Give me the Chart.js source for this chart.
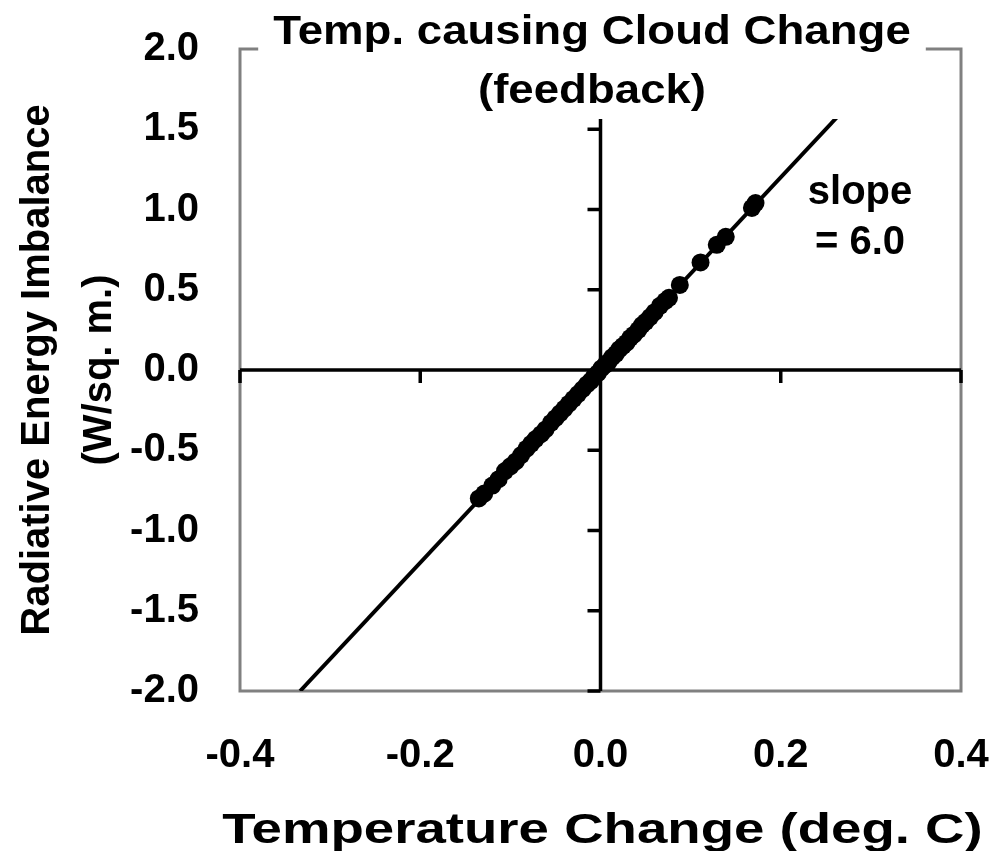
<!DOCTYPE html>
<html>
<head>
<meta charset="utf-8">
<script src="https://cdn.jsdelivr.net/npm/chart.js@4"></script>
<style>
  body { margin: 0; background: #fff; }
  #wrap { width: 1005px; height: 851px; }
</style>
</head>
<body>
<div id="wrap"><canvas id="chart"></canvas></div>
<script>
// temperature change (deg C) vs. radiative imbalance (W/sq. m.)
const tempChange = [-0.135, -0.129, -0.120, -0.113, -0.106, -0.100, -0.094, -0.088, -0.082, -0.077,
  -0.072, -0.066, -0.061, -0.055, -0.050, -0.045, -0.040, -0.035, -0.030, -0.025,
  -0.020, -0.015, -0.011, -0.007, -0.003, 0.001, 0.005, 0.009, 0.013, 0.017,
  0.021, 0.025, 0.029, 0.033, 0.037, 0.042, 0.046, 0.050, 0.055, 0.060,
  0.066, 0.072, 0.076, 0.088, 0.111, 0.129, 0.139, 0.168, 0.172];
const imbalance = [-0.80, -0.77, -0.72, -0.68, -0.63, -0.60, -0.57, -0.53, -0.49, -0.46,
  -0.43, -0.40, -0.37, -0.33, -0.30, -0.27, -0.24, -0.21, -0.18, -0.15,
  -0.12, -0.09, -0.07, -0.04, -0.02, 0.01, 0.03, 0.05, 0.08, 0.10,
  0.13, 0.15, 0.17, 0.20, 0.22, 0.25, 0.28, 0.30, 0.33, 0.36,
  0.40, 0.43, 0.45, 0.53, 0.67, 0.78, 0.83, 1.01, 1.04];

// fitted line, slope 6.0
const slopeValue = 6.0;
const fitTemp = [-0.3333, 0.3333];
const fitImbalance = [-2.0, 2.0];

const xTicks = [-0.4, -0.2, 0.0, 0.2, 0.4];
const yTicks = [-2.0, -1.5, -1.0, -0.5, 0.0, 0.5, 1.0, 1.5, 2.0];

const chartTitle = ['Temp. causing Cloud Change', '(feedback)'];
const xTitle = 'Temperature Change (deg. C)';
const yTitle = ['Radiative Energy Imbalance', '(W/sq. m.)'];

const FONT = '"Liberation Sans", Arial, sans-serif';

// gray plot frame plus the black zero axes with their tick marks
const zeroAxes = {
  id: 'zeroAxes',
  beforeDatasetsDraw(chart) {
    const { ctx, chartArea: a, scales: { x, y } } = chart;
    ctx.save();
    ctx.strokeStyle = '#808080';
    ctx.lineWidth = 3;
    ctx.strokeRect(a.left, a.top, a.right - a.left, a.bottom - a.top);

    const x0 = x.getPixelForValue(0);
    const y0 = y.getPixelForValue(0);
    ctx.strokeStyle = '#000';
    ctx.lineWidth = 3.5;
    ctx.beginPath();
    ctx.moveTo(a.left, y0);
    ctx.lineTo(a.right, y0);
    ctx.moveTo(x0, a.top);
    ctx.lineTo(x0, a.bottom);
    xTicks.forEach(v => {
      const px = x.getPixelForValue(v);
      ctx.moveTo(px, y0);
      ctx.lineTo(px, y0 + 13);
    });
    yTicks.forEach(v => {
      const py = y.getPixelForValue(v);
      ctx.moveTo(x0, py);
      ctx.lineTo(x0 - 13, py);
    });
    ctx.stroke();
    ctx.restore();
  }
};

// text drawn a little wide, like the old spreadsheet export
function wideText(ctx, text, cx, cy, stretch) {
  ctx.save();
  ctx.translate(cx, cy);
  ctx.scale(stretch, 1);
  ctx.fillText(text, 0, 0);
  ctx.restore();
}

// title on a white box over the top of the plot, the slope note and the x title
const titleBox = {
  id: 'titleBox',
  afterDraw(chart) {
    const { ctx, chartArea: a, scales: { x, y } } = chart;
    ctx.save();
    ctx.textAlign = 'center';
    ctx.textBaseline = 'middle';

    const stretch = 1.14;
    ctx.font = 'bold 40px ' + FONT;
    const w = Math.max(...chartTitle.map(t => ctx.measureText(t).width)) * stretch;
    const cx = 592, top = 33, lh = 59;
    ctx.fillStyle = '#fff';
    ctx.fillRect(cx - w / 2 - 15, 0, w + 30, top + lh + 27);
    ctx.fillStyle = '#000';
    chartTitle.forEach((t, i) => wideText(ctx, t, cx, top + i * lh, stretch));

    ctx.font = 'bold 40px ' + FONT;
    const sx = x.getPixelForValue(0.288);
    const sy = y.getPixelForValue(1.1);
    ctx.fillText('slope', sx, sy);
    ctx.fillText('= ' + slopeValue.toFixed(1), sx, sy + 50);

    ctx.font = 'bold 42px ' + FONT;
    wideText(ctx, xTitle, (a.left + a.right) / 2 + 2, 831, 1.3);
    ctx.restore();
  }
};

new Chart(document.getElementById('chart'), {
  type: 'scatter',
  data: {
    datasets: [
      {
        label: 'fit',
        data: fitTemp.map((t, i) => ({ x: t, y: fitImbalance[i] })),
        showLine: true,
        borderColor: '#000',
        borderWidth: 4,
        pointRadius: 0
      },
      {
        label: 'data',
        data: tempChange.map((t, i) => ({ x: t, y: imbalance[i] })),
        pointRadius: 9,
        pointBackgroundColor: '#000',
        pointBorderWidth: 0
      }
    ]
  },
  options: {
    responsive: true,
    maintainAspectRatio: false,
    animation: false,
    layout: { padding: { top: 49, right: 44, left: 0, bottom: 0 } },
    plugins: {
      legend: { display: false },
      tooltip: { enabled: false }
    },
    scales: {
      x: {
        type: 'linear',
        min: -0.4,
        max: 0.4,
        afterBuildTicks: s => { s.ticks = xTicks.map(v => ({ value: v })); },
        afterFit: s => { s.height = 160; s.paddingLeft = 0; s.paddingRight = 0; },
        grid: { display: false },
        border: { display: false },
        ticks: {
          padding: 33,
          color: '#000',
          font: { family: FONT, size: 40, weight: 'bold', lineHeight: 1.2 },
          callback: v => v.toFixed(1)
        },
        title: { display: false }
      },
      y: {
        type: 'linear',
        min: -2,
        max: 2,
        afterBuildTicks: s => { s.ticks = yTicks.map(v => ({ value: v })); },
        afterFit: s => { s.width = 240; s.paddingTop = 0; s.paddingBottom = 0; },
        grid: { display: false },
        border: { display: false },
        ticks: {
          padding: 33,
          color: '#000',
          font: { family: FONT, size: 40, weight: 'bold', lineHeight: 1.2 },
          callback: v => v.toFixed(1)
        },
        title: {
          display: true,
          text: yTitle,
          color: '#000',
          padding: { top: 7, bottom: 0 },
          font: { family: FONT, size: 40, weight: 'bold', lineHeight: 1.55 }
        }
      }
    }
  },
  plugins: [zeroAxes, titleBox]
});
</script>
</body>
</html>
